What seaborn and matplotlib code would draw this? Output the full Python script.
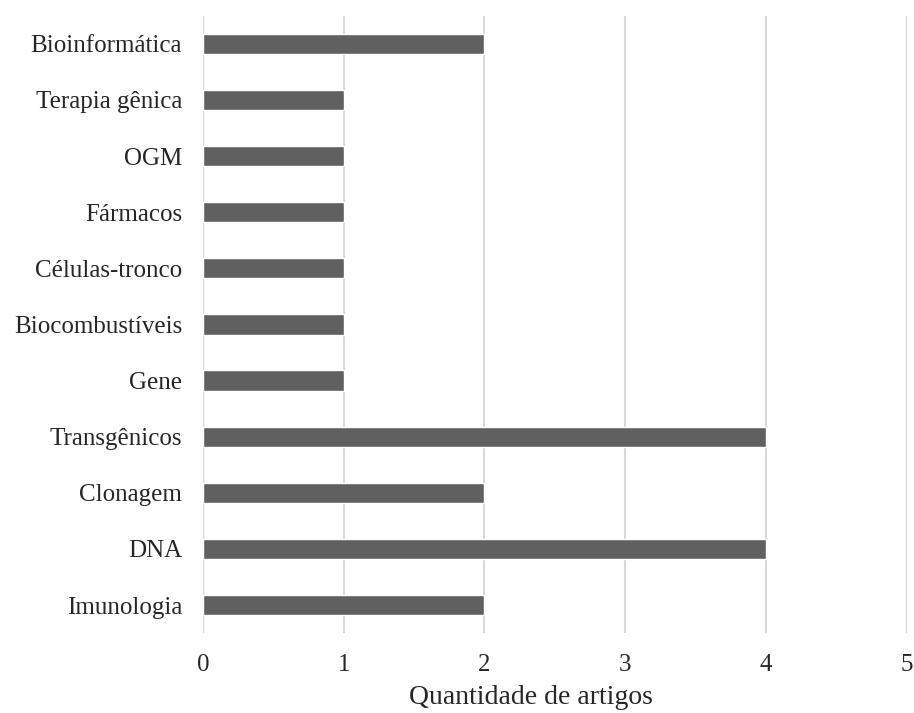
import numpy as np
import pandas as pd
import seaborn as sns
import matplotlib.pyplot as plt

categorias = ['Bioinformática', 'Terapia gênica', 'OGM', 'Fármacos', 'Células-tronco',
              'Biocombustíveis', 'Gene', 'Transgênicos', 'Clonagem', 'DNA', 'Imunologia']
artigos = [2, 1, 1, 1, 1, 1, 1, 4, 2, 4, 2]

df = pd.DataFrame({'categoria': categorias, 'artigos': artigos})

sns.set_style('white')
plt.rcParams['font.family'] = ['Liberation Serif', 'DejaVu Serif']

fig = plt.figure(figsize=(9.14, 7.13), dpi=100)
ax = fig.add_axes([0.222, 0.112, 0.770, 0.866])

sns.barplot(data=df, x='artigos', y='categoria', color='#606060', saturation=1,
            width=0.36, ax=ax, zorder=3)

ax.set_xlim(0, 5)
ax.set_ylim(10.5, -0.5)
ax.set_xticks(range(6))
ax.grid(True, axis='x', color='#d9d9d9', linewidth=1.5, zorder=0)
ax.set_axisbelow(True)
for s in ax.spines.values():
    s.set_visible(False)
ax.tick_params(axis='both', length=0, labelsize=18)
ax.tick_params(axis='x', pad=15)
ax.tick_params(axis='y', pad=15)
ax.set_ylabel('')
ax.set_xlabel('Quantidade de artigos', fontsize=20, va='center')
ax.xaxis.set_label_coords(0.466, -0.105)

fig.savefig('out.png', dpi=100)
